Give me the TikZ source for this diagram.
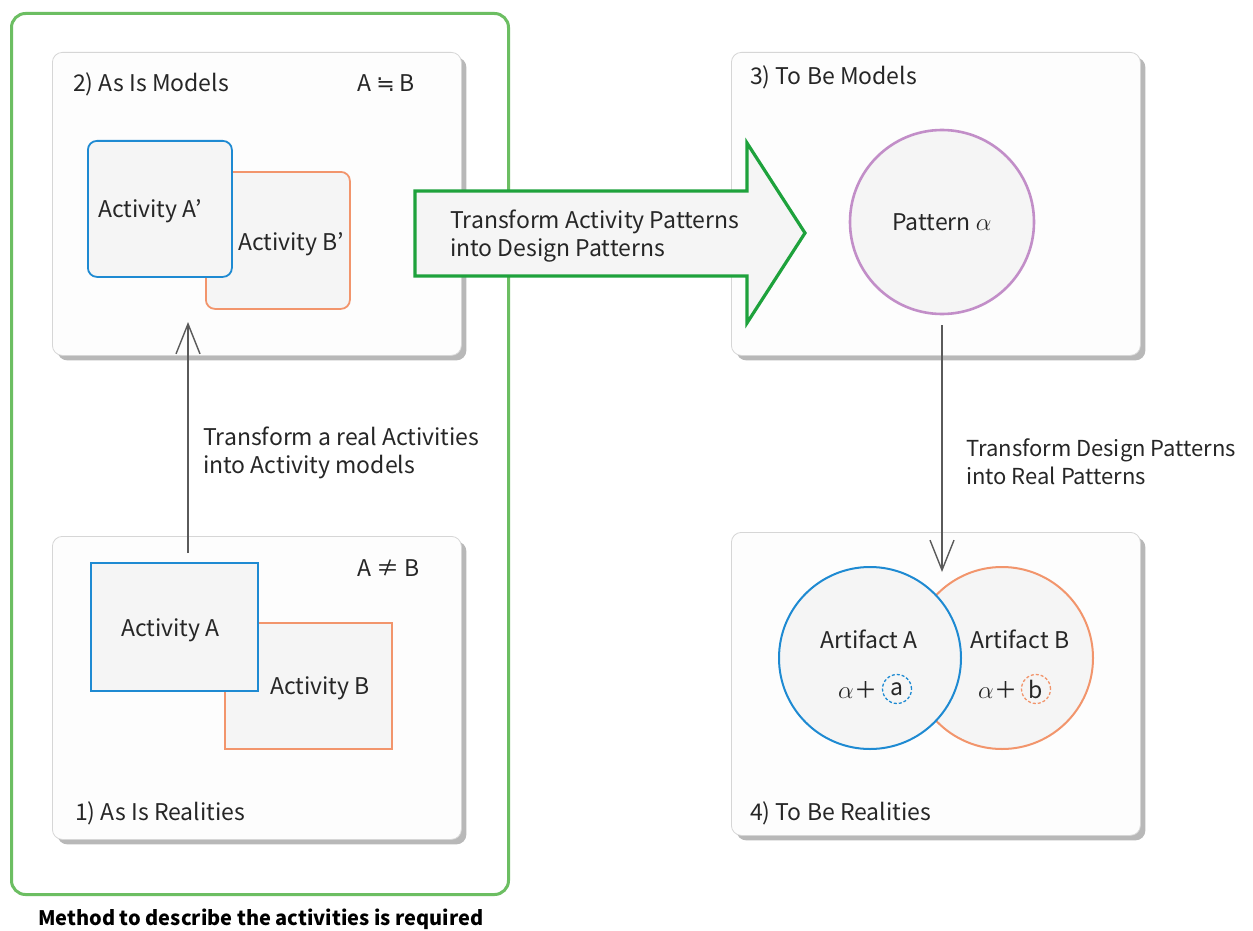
\documentclass[tikz,border=0pt]{standalone}
\usepackage{fontspec}
\setmainfont{Noto Sans CJK JP}
\newfontfamily\symfont{DejaVu Sans}
\usetikzlibrary{arrows.meta,shadows}
\definecolor{actblue}{RGB}{30,138,210}
\definecolor{actorange}{RGB}{242,149,108}
\definecolor{patpurple}{RGB}{194,142,200}
\definecolor{framegreen}{RGB}{108,190,98}
\definecolor{arrowgreen}{RGB}{30,162,60}
\definecolor{boxfill}{RGB}{245,245,245}
\definecolor{panelline}{RGB}{214,214,214}
\definecolor{panelfill}{RGB}{253,253,253}
\definecolor{ink}{RGB}{38,38,38}
\definecolor{flowgray}{RGB}{90,90,90}
\newcommand{\bigalpha}{{\fontsize{28}{28}\selectfont$\alpha$}}
\begin{document}
\begin{tikzpicture}[x=1pt,y=-1pt,
  font=\fontsize{23}{28}\selectfont, text=ink,
  panel/.style={draw=panelline, line width=0.8, fill=panelfill, rounded corners=10,
    anchor=north west, inner sep=0, minimum width=409, minimum height=303,
    drop shadow={shadow xshift=5pt, shadow yshift=-5pt, fill=black, opacity=0.28}},
  actbox/.style={fill=boxfill, line width=1.8, anchor=north west, inner sep=0},
  label/.style={anchor=base west, inner sep=0},
  flow/.style={draw=flowgray, line width=1.6, -{Straight Barb[length=30pt,width=24pt,line width=1.4]}},
  artifact/.style={circle, fill=boxfill, line width=2, inner sep=0, minimum size=182},
  tag/.style={circle, dashed, dash pattern=on 3pt off 2pt, line width=1.3, inner sep=0, minimum size=29}
]
\fill[white] (0,0) rectangle (1253,931);
\useasboundingbox (0,0) rectangle (1253,931);

% frame around the "as is" side
\node[draw=framegreen, line width=3, rounded corners=14, anchor=north west, inner sep=0,
  minimum width=497, minimum height=881] (method) at (10,12) {};
\node[label, font=\fontsize{20}{26}\selectfont\bfseries, text=black] (methodtext) at (38,925)
  {Method to describe the activities is required};

% 2) As Is Models
\node[panel] (asismodels) at (52,52) {};
\node[label] at (73,92) {2) As Is Models};
\node[label] at (357,92) {A {\symfont\fontsize{22}{26}\selectfont ≒} B};
\node[actbox, draw=actorange, rounded corners=9, minimum width=144, minimum height=137] (bprime) at (205,171) {};
\node[actbox, draw=actblue, rounded corners=9, minimum width=144, minimum height=136] (aprime) at (87,140) {};
\node[label] at (98,217) {Activity A’};
\node[label] at (238,250) {Activity B’};

% 1) As Is Realities
\node[panel] (asisreal) at (52,536) {};
\node[label] at (357,576) {A ≠ B};
\node[label] at (75,820) {1) As Is Realities};
\node[actbox, draw=actorange, minimum width=167, minimum height=126] (actb) at (224,622) {};
\node[actbox, draw=actblue, minimum width=167, minimum height=128] (acta) at (90,562) {};
\node[label] at (121,636) {Activity A};
\node[label] at (270,694) {Activity B};

% realities -> models
\coordinate (upfrom) at (188,553);
\coordinate (upto) at (188,322);
\draw[flow] (upfrom) -- (upto);
\node[label] at (203,445) {Transform a real Activities};
\node[label] at (203,473) {into Activity models};

% 3) To Be Models
\node[panel] (tobemodels) at (731,52) {};
\node[label] at (750,85) {3) To Be Models};
\node[circle, draw=patpurple, line width=2.6, fill=boxfill, inner sep=0, minimum size=184]
  (pattern) at (942,222) {Pattern \bigalpha};

% big transformation arrow
\draw[draw=arrowgreen, fill=boxfill, line width=3.2, line join=miter]
  (415,191) -- (747,191) -- (747,143) -- (805,233) -- (747,323) -- (747,276) -- (415,276) -- cycle;
\node[label] at (450,228) {Transform Activity Patterns};
\node[label] at (450,256) {into Design Patterns};

% 4) To Be Realities
\node[panel] (tobereal) at (731,532) {};
\node[label] at (750,820) {4) To Be Realities};
\node[artifact, draw=actorange] (artb) at (1002,658) {};
\node[artifact, draw=actblue] (arta) at (870,658) {};
\node[anchor=base, inner sep=0] at (869,648) {Artifact A};
\node[anchor=base, inner sep=0] at (1020,648) {Artifact B};
\node[label] at (838,698) {\bigalpha\kern1pt＋};
\node[tag, draw=actblue] (taga) at (897,689) {a};
\node[label] at (978,698) {\bigalpha\kern1pt＋};
\node[tag, draw=actorange] (tagb) at (1036,689) {b};

% models -> realities
\coordinate (downfrom) at (942,325);
\coordinate (downto) at (942,572);
\draw[flow] (downfrom) -- (downto);
\node[label, font=\fontsize{22}{27}\selectfont] at (966,456) {Transform Design Patterns};
\node[label, font=\fontsize{22}{27}\selectfont] at (966,484) {into Real Patterns};
\end{tikzpicture}
\end{document}
